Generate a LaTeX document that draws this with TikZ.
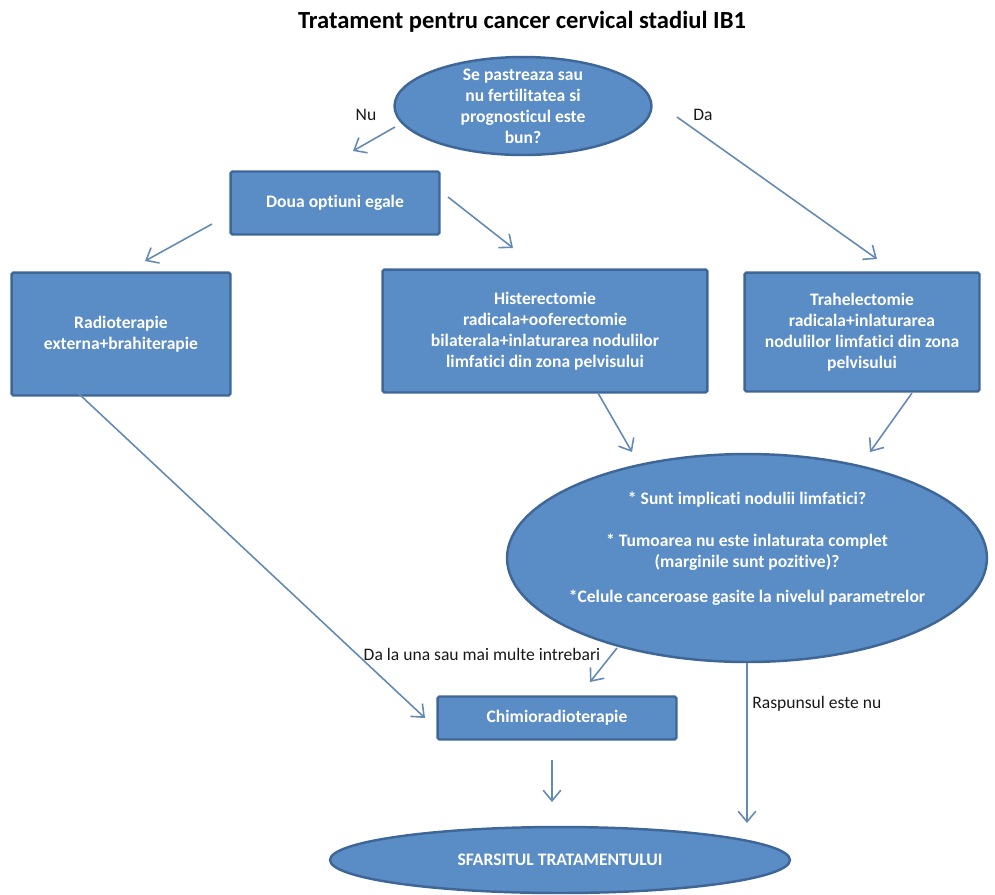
\documentclass[tikz,border=0pt]{standalone}
\usepackage{fontspec}
\setmainfont{Carlito}[Ligatures=NoCommon]
\usepackage{tikz}
\usetikzlibrary{arrows.meta}
\usetikzlibrary{shapes.geometric}
\definecolor{boxfill}{RGB}{90,140,197}
\definecolor{boxdraw}{RGB}{62,103,152}
\definecolor{arrowcol}{RGB}{100,138,180}

\begin{document}
\begin{tikzpicture}%
	[x=0.02cm, y=-0.02cm,
	box/.style={rectangle, draw=boxdraw, fill=boxfill, line width=1.4pt, rounded corners=1pt, text=white, font=\bfseries\fontsize{10}{12}\selectfont, align=center, inner sep=0pt},
	oval/.style={ellipse, draw=boxdraw, fill=boxfill, line width=1.4pt, text=white, font=\bfseries\fontsize{10}{12}\selectfont, align=center, inner sep=0pt},
	arrow/.style={draw=arrowcol, line width=0.9pt, -{Straight Barb[length=6pt,width=10pt]}},
	lbl/.style={text=black!90, font=\fontsize{10}{12}\selectfont, inner sep=0pt}]
%
\useasboundingbox (0,0) rectangle (995,894);
%%
%% Title
%%
\node[font=\bfseries\fontsize{14}{17}\selectfont] (title) at (522,22) {Tratament pentru cancer cervical stadiul IB1};
%%
%% Drawing the nodes
%%
\node[oval, minimum width=5.14cm, minimum height=1.96cm, inner ysep=-4pt] (fert) at (523,106) {Se pastreaza sau\\nu fertilitatea si\\prognosticul este\\bun?};
\node[box, minimum width=4.18cm, minimum height=1.26cm] (doua) at (335,203) {Doua optiuni egale};
\node[box, minimum width=4.38cm, minimum height=2.46cm] (radio) at (121,334) {Radioterapie\\externa+brahiterapie};
\node[box, minimum width=6.5cm, minimum height=2.46cm] (hister) at (545,331) {Histerectomie\\radicala+ooferectomie\\bilaterala+inlaturarea nodulilor\\limfatici din zona pelvisului};
\node[box, minimum width=4.7cm, minimum height=2.38cm] (trahel) at (862,332) {Trahelectomie\\radicala+inlaturarea\\nodulilor limfatici din zona\\pelvisului};
\node[oval, minimum width=9.6cm, minimum height=4.16cm, inner xsep=-5pt] (intreb) at (747,558) {* Sunt implicati nodulii limfatici?\\[12pt]* Tumoarea nu este inlaturata complet\\(marginile sunt pozitive)?\\[8pt]*Celule canceroase gasite la nivelul parametrelor\\~};
\node[box, minimum width=4.78cm, minimum height=0.86cm] (chimio) at (557,718) {Chimioradioterapie};
\node[oval, minimum width=9.2cm, minimum height=1.32cm] (sfarsit) at (560,860) {SFARSITUL TRATAMENTULUI};
%%
%% Labels
%%
\node[lbl] (nu) at (366,115) {Nu};
\node[lbl] (da) at (703,115) {Da};
\node[lbl] (dalauna) at (482,654) {Da la una sau mai multe intrebari};
\node[lbl, anchor=west] (raspuns) at (752,704) {Raspunsul este nu};
%%
%% Coordinate of the arrow ends
%%
\coordinate (nu-s) at (395,127);
\coordinate (nu-e) at (353,151);
\coordinate (da-s) at (677,117);
\coordinate (da-e) at (877,259);
\coordinate (dr-s) at (212,224);
\coordinate (dr-e) at (145,261);
\coordinate (dh-s) at (448,197);
\coordinate (dh-e) at (513,248);
\coordinate (hi-s) at (598,393);
\coordinate (hi-e) at (632,452);
\coordinate (tr-s) at (912,393);
\coordinate (tr-e) at (870,452);
\coordinate (rc-s) at (78,393);
\coordinate (rc-e) at (425,718);
\coordinate (ic-s) at (617,648);
\coordinate (ic-e) at (590,682);
\coordinate (is-e) at (747,823);
\coordinate (cs-s) at (552,760);
\coordinate (cs-e) at (552,802);
%%
%% Drawing the arrows
%%
\draw[arrow] (nu-s) -- (nu-e);
\draw[arrow] (da-s) -- (da-e);
\draw[arrow] (dr-s) -- (dr-e);
\draw[arrow] (dh-s) -- (dh-e);
\draw[arrow] (hi-s) -- (hi-e);
\draw[arrow] (tr-s) -- (tr-e);
\draw[arrow] (rc-s) -- (rc-e);
\draw[arrow] (ic-s) -- (ic-e);
\draw[arrow] (intreb.south) -- (is-e);
\draw[arrow] (cs-s) -- (cs-e);
%%
\end{tikzpicture}
\end{document}
